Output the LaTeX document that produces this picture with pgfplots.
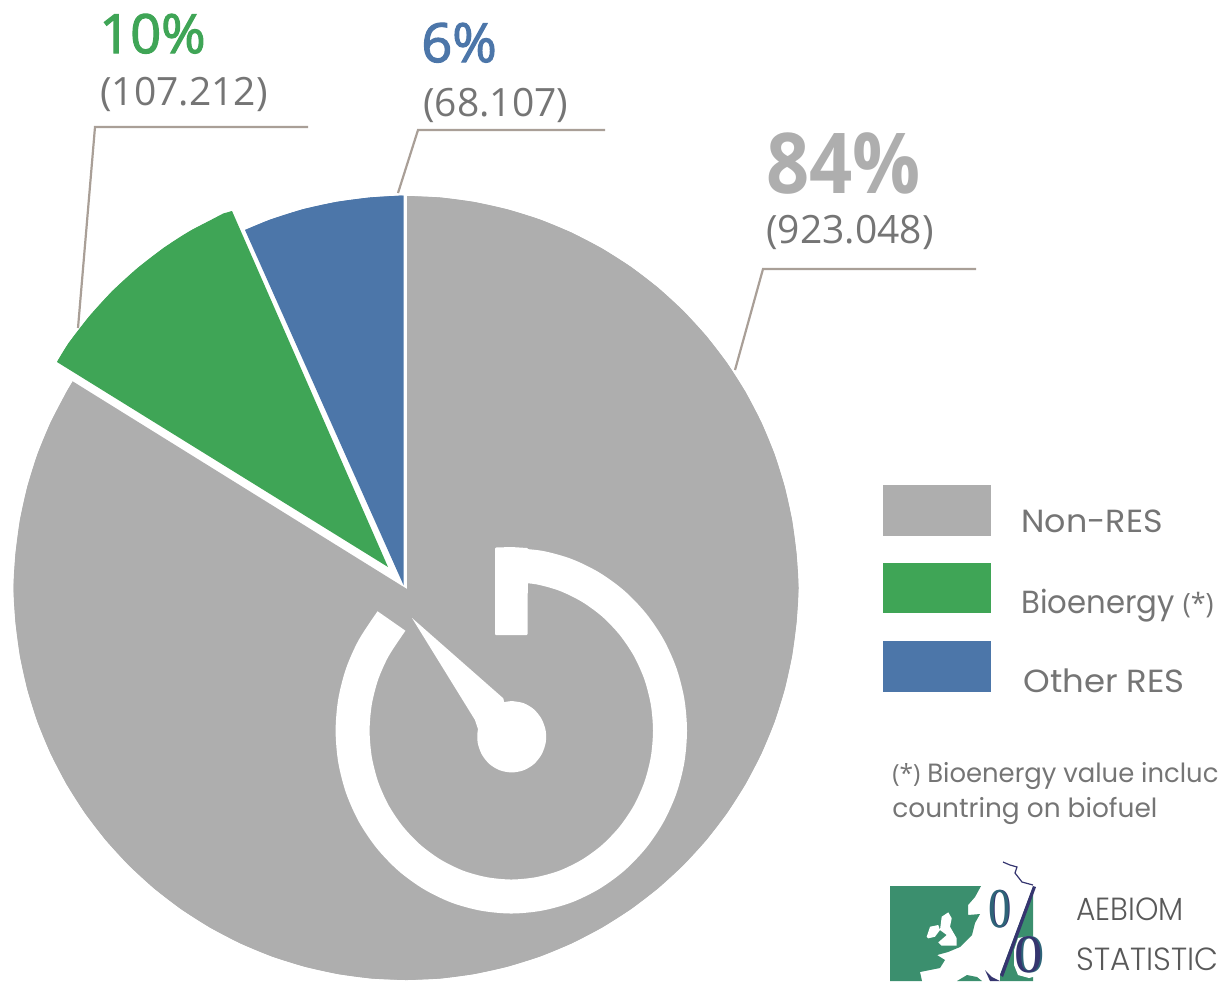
\documentclass[border=0pt]{standalone}
\usepackage{pgfplots}
\pgfplotsset{compat=1.18}
\usepackage{fontspec}
\setmainfont{Open Sans}
\newfontfamily\numfont[FakeBold=2.2]{Open Sans}
\newfontfamily\legfont{Poppins}
\newfontfamily\logofont{Poppins Light}
\newfontfamily\zerofont{Liberation Serif}
\definecolor{cgrey}{HTML}{AEAEAE}
\definecolor{cgreen}{HTML}{3FA556}
\definecolor{cblue}{HTML}{4C76A9}
\definecolor{cline}{HTML}{A99F97}
\definecolor{ctext}{HTML}{757575}
\definecolor{clogo}{HTML}{3B8F6E}
\definecolor{cnavy}{HTML}{35356F}
\definecolor{cface}{HTML}{2E6478}
\newcommand\fs[1]{\fontsize{#1}{#1}\selectfont}
\tikzset{lab/.style={anchor=base west,inner sep=0pt,text=ctext}}
\begin{document}
\begin{tikzpicture}
\useasboundingbox (0,0) rectangle (609.5pt,490.5pt);
\clip (0,0) rectangle (609.5pt,490.5pt);
\begin{axis}[scale only axis,width=609.5pt,height=490.5pt,xmin=0,xmax=1219,ymin=0,ymax=981,y dir=reverse,axis lines=none,clip=false]
% Non-RES 84%
\addplot[fill=cgrey,draw=none] coordinates {(407,589)(407,196)(440.2,197.5)(474.1,202)(507.5,209.4)(540.1,219.6)(571.7,232.7)(602,248.5)(630.9,266.9)(658,287.7)(683.2,310.8)(706.3,336)(727.1,363.1)(745.5,392)(761.3,422.3)(774.4,453.9)(784.6,486.5)(792,519.9)(796.5,553.8)(798.5,588)(796.5,622.2)(792,656.1)(784.6,689.5)(774.4,722.1)(761.3,753.7)(745.5,784)(727.1,812.9)(706.3,840)(683.2,865.2)(658,888.3)(630.9,909.1)(602,927.5)(571.7,943.3)(540.1,956.4)(507.5,966.6)(474.1,974)(440.2,978.5)(406,980)(371.8,978.5)(337.9,974)(304.5,966.6)(271.9,956.4)(240.3,943.3)(210,927.5)(181.1,909.1)(154,888.3)(128.8,865.2)(105.7,840)(84.9,812.9)(66.5,784)(50.7,753.7)(37.6,722.1)(27.4,689.5)(20,656.1)(15.5,622.2)(13.5,588)(15.5,553.8)(20,519.9)(27.4,486.5)(37.6,453.9)(50.7,422.3)(66.5,392)(72.8,381.4)} -- cycle;
\addplot[smooth,fill=cgrey,draw=none] coordinates {(407,196)(440.2,197.5)(474.1,202)(507.5,209.4)(540.1,219.6)(571.7,232.7)(602,248.5)(630.9,266.9)(658,287.7)(683.2,310.8)(706.3,336)(727.1,363.1)(745.5,392)(761.3,422.3)(774.4,453.9)(784.6,486.5)(792,519.9)(796.5,553.8)(798.5,588)(796.5,622.2)(792,656.1)(784.6,689.5)(774.4,722.1)(761.3,753.7)(745.5,784)(727.1,812.9)(706.3,840)(683.2,865.2)(658,888.3)(630.9,909.1)(602,927.5)(571.7,943.3)(540.1,956.4)(507.5,966.6)(474.1,974)(440.2,978.5)(407,980)};
\addplot[smooth,fill=cgrey,draw=none] coordinates {(406,980)(371.8,978.5)(337.9,974)(304.5,966.6)(271.9,956.4)(240.3,943.3)(210,927.5)(181.1,909.1)(154,888.3)(128.8,865.2)(105.7,840)(84.9,812.9)(66.5,784)(50.7,753.7)(37.6,722.1)(27.4,689.5)(20,656.1)(15.5,622.2)(13.5,588)(15.5,553.8)(20,519.9)(27.4,486.5)(37.6,453.9)(50.7,422.3)(66.5,392)(72.8,381.4)};
% Other RES 6%
\addplot[fill=cblue,draw=none] coordinates {(403.5,585)(403.5,195.5)(369.9,197.5)(336.1,202)(302.8,209.3)(270.3,219.6)(245,230)} -- cycle;
\addplot[smooth,fill=cblue,draw=none] coordinates {(403.5,195.5)(369.9,197.5)(336.1,202)(302.8,209.3)(270.3,219.6)(245,230)};
% Bioenergy 10%
\addplot[fill=cgreen,draw=none] coordinates {(388,567)(232,211)(223.2,213.5)(193,229.3)(164.3,247.5)(137.3,268.3)(112.2,291.2)(89.3,316.3)(68.5,343.3)(57,362)} -- cycle;
\addplot[smooth,fill=cgreen,draw=none] coordinates {(232,211)(193,229.3)(164.3,247.5)(137.3,268.3)(112.2,291.2)(89.3,316.3)(68.5,343.3)(57,362)};
% gauge ring
\addplot[smooth,draw=white,line width=17pt] coordinates {(511.3,565)(538.9,567.5)(565.6,574.9)(590.7,587.2)(613.3,603.7)(632.9,624.2)(648.8,647.8)(660.5,674)(667.6,701.9)(670,730.7)(667.6,759.5)(660.5,787.4)(648.8,813.6)(632.9,837.2)(613.3,857.7)(590.7,874.2)(565.6,886.5)(538.9,893.9)(511.3,896.5)(483.7,893.9)(457,886.5)(431.9,874.2)(409.3,857.7)(389.7,837.2)(373.8,813.6)(362.1,787.4)(355,759.5)(352.6,730.7)(355,701.9)(362.1,674)(373.8,647.8)(391.5,621)};
\addplot[fill=white,draw=white,line width=1pt,line join=round] coordinates {(496,548.5)(511.5,548)(527,549)(526.5,634)(496,634)} -- cycle;
% gauge needle
\addplot[fill=white,draw=none] coordinates {(412,618)(503.3,698.3)(511.7,736)(478.3,730)(475,720)} -- cycle;
\addplot[smooth,fill=white,draw=none] coordinates {(511.7,701)(523.5,703.1)(533.9,709.3)(541.6,719)(545.7,730.7)(545.7,742.7)(541.6,754.4)(533.9,764.1)(523.5,770.3)(511.7,772.4)(499.9,770.3)(489.5,764.1)(481.8,754.4)(477.7,742.7)(477.7,730.7)(481.8,719)(489.5,709.3)(499.9,703.1)(511.7,701)};
% leader lines
\addplot[cline,line width=1.1pt] coordinates {(735,370)(763,269)(976,269)};
\addplot[cline,line width=1.1pt] coordinates {(78,328)(95,127)(308,127)};
\addplot[cline,line width=1.1pt] coordinates {(398,193)(418,130)(605,130)};
% legend swatches
\addplot[fill=cgrey,draw=none] coordinates {(883,485)(991,485)(991,536)(883,536)} -- cycle;
\addplot[fill=cgreen,draw=none] coordinates {(883,563)(991,563)(991,613)(883,613)} -- cycle;
\addplot[fill=cblue,draw=none] coordinates {(883,641)(991,641)(991,692)(883,692)} -- cycle;
% logo
\addplot[fill=clogo,draw=none] coordinates {(890,886)(981,886)(975,897)(968,905)(968,915)(980,914)(975,923)(972,935)(960,947)(948,952)(937,955)(945,960)(940,968)(920,972)(922,981)(890,981)} -- cycle;
\addplot[fill=white,draw=none] coordinates {(941.7,916.7)(948.3,912.3)(951.7,918.3)(950,926.7)(956.7,938.3)(956.7,945.7)(941.7,945.7)(938.3,942.3)(946.7,935)(940,930)} -- cycle;
\addplot[fill=white,draw=none] coordinates {(926.7,936.7)(930,926.7)(938.3,925)(940,930)(935,936.7)(928.3,938.3)} -- cycle;
\addplot[fill=clogo,draw=none] coordinates {(1033,887)(1033,981)(1000,981)(1000,975)} -- cycle;
\addplot[fill=clogo,draw=none] coordinates {(957,981)(967,975)(977,977)(982,981)} -- cycle;
\addplot[fill=cnavy,draw=none] coordinates {(985,970)(992,977)(1000,981)(990,981)} -- cycle;
\addplot[fill=cnavy,draw=none] coordinates {(1033,886)(1036,887)(1003,977)(1000,975)} -- cycle;
\addplot[cnavy,line width=0.6pt] coordinates {(1003,862)(1010,865)(1017,867)(1015,873)(1022,882)(1033,885)};
\node[anchor=center,inner sep=0pt,text=cnavy,xscale=.8] at (axis cs:1001,909) {\zerofont\fs{28}0};
\node[anchor=center,inner sep=0pt,text=cface,xscale=.8] at (axis cs:999.5,909) {\zerofont\fs{28}0};
\addplot[fill=white,draw=none] coordinates {(1029,936)(1040,938)(1045,950)(1045,965)(1040,975)(1029,978)(1018,975)(1014,965)(1014,950)(1018,938)} -- cycle;
\node[anchor=center,inner sep=0pt,text=cface,xscale=1.05] at (axis cs:1030.5,955) {\zerofont\fs{27}0};
\node[anchor=center,inner sep=0pt,text=cnavy,xscale=1.05] at (axis cs:1029,955) {\zerofont\fs{27}0};
% texts
\node[lab,text=cgreen] at (axis cs:99,53) {\numfont\fs{27}10\%};
\node[lab] at (axis cs:100,105) {\fs{19.5}(107.212)};
\node[lab,text=cblue] at (axis cs:421,62) {\numfont\fs{27}6\%};
\node[lab] at (axis cs:423,116) {\fs{19.5}(68.107)};
\node[lab,text=cgrey,xscale=.9] at (axis cs:766,193) {\bfseries\fs{42}84\%};
\node[lab] at (axis cs:766,243) {\fs{19.5}(923.048)};
\node[lab,xscale=1.04] at (axis cs:1021,532) {\legfont\fs{16}Non-RES};
\node[lab,xscale=.96] at (axis cs:1021,613) {\legfont\fs{16}Bioenergy {\rmfamily\fs{14}(*)}};
\node[lab,xscale=1.06] at (axis cs:1023,692) {\legfont\fs{16}Other RES};
\node[lab,xscale=.98] at (axis cs:892,782) {\fs{12.5}(*)\legfont\fs{13.2} Bioenergy value incluc};
\node[lab] at (axis cs:892,817) {\legfont\fs{13.2}countring on biofuel};
\node[lab,xscale=.93,text=black!65] at (axis cs:1076,920) {\logofont\fs{16}AEBIOM};
\node[lab,xscale=.97,text=black!65] at (axis cs:1076,970) {\logofont\fs{16}STATISTIC};
\end{axis}
\end{tikzpicture}
\end{document}
